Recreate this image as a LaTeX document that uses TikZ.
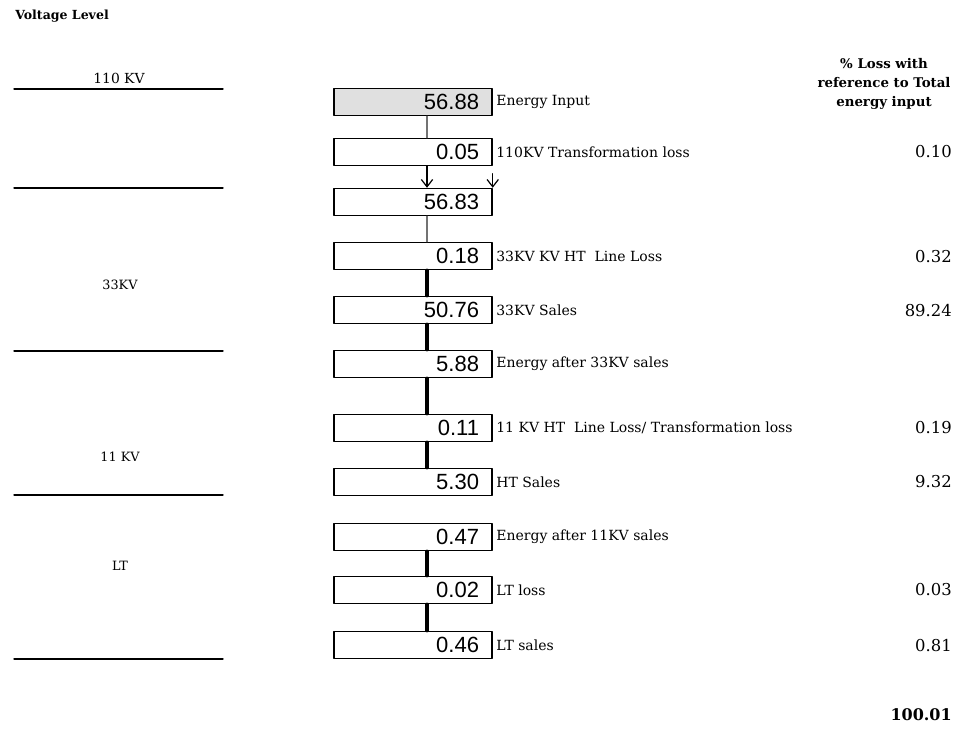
\documentclass[tikz,border=0pt]{standalone}
\usepackage{fontspec}
\setmainfont{DejaVu Serif}
\newfontfamily\numfamily{Liberation Sans}
\usetikzlibrary{arrows.meta}

\tikzset{
  valbox/.style={draw,line width=1.1pt,minimum height=20.25pt,text width=99pt,
    inner xsep=9.75pt,inner ysep=0pt,align=right,
    font=\numfamily\fontsize{16.5}{18}\selectfont},
  desc/.style={anchor=west,inner xsep=2.5pt,font=\fontsize{10.5}{12}\selectfont},
  pct/.style={anchor=east,inner sep=0pt,font=\fontsize{12.3}{14}\selectfont},
  level/.style={inner sep=0pt,font=\fontsize{9.6}{11}\selectfont},
  thinlink/.style={draw=black!55,line width=0.9pt},
  thicklink/.style={line width=2.4pt},
  tip/.style={-{Straight Barb[length=5.5pt,width=8.5pt,line width=0.9pt]},line width=0.9pt},
}

\begin{document}
\begin{tikzpicture}[x=0.75pt,y=-0.75pt,line cap=round,line join=round]
  \useasboundingbox (0,0) rectangle (960,729);

  \node[anchor=west,inner sep=0pt,font=\bfseries\fontsize{9.4}{11}\selectfont] (vlt) at (15,16) {Voltage Level};
  \node[align=center,inner sep=0pt,font=\bfseries\fontsize{10}{14.2}\selectfont] (hdr) at (884,84)
    {\% Loss with\\reference to Total\\energy input};

  \draw[line width=1pt] (14,89) -- (223,89);
  \draw[line width=1pt] (14,188) -- (223,188);
  \draw[line width=1pt] (14,351) -- (223,351);
  \draw[line width=1pt] (14,495) -- (223,495);
  \draw[line width=1pt] (14,659) -- (223,659);
  \node[level,font=\fontsize{10.4}{12}\selectfont] (l110) at (119,78) {110 KV};
  \node[level] (l33) at (120,285) {33KV};
  \node[level] (l11) at (120,457) {11 KV};
  \node[level] (llt) at (120,566) {LT};

  \node[valbox,fill=black!12] (b1) at (413,102) {56.88};
  \node[valbox] (b2) at (413,152) {0.05};
  \node[valbox] (b3) at (413,202) {56.83};
  \node[valbox] (b4) at (413,256) {0.18};
  \node[valbox] (b5) at (413,310) {50.76};
  \node[valbox] (b6) at (413,364) {5.88};
  \node[valbox] (b7) at (413,428) {0.11};
  \node[valbox] (b8) at (413,482) {5.30};
  \node[valbox] (b9) at (413,537) {0.47};
  \node[valbox] (b10) at (413,590) {0.02};
  \node[valbox] (b11) at (413,645) {0.46};

  \node[desc] (t1) at (b1.east) {Energy Input};
  \node[desc] (t2) at (b2.east) {110KV Transformation loss};
  \node[desc] (t4) at (b4.east) {33KV KV HT~ Line Loss};
  \node[desc] (t5) at (b5.east) {33KV Sales};
  \node[desc] (t6) at (b6.east) {Energy after 33KV sales};
  \node[desc] (t7) at (b7.east) {11 KV HT~ Line Loss/ Transformation loss};
  \node[desc] (t8) at (b8.east) {HT Sales};
  \node[desc] (t9) at (b9.east) {Energy after 11KV sales};
  \node[desc] (t10) at (b10.east) {LT loss};
  \node[desc] (t11) at (b11.east) {LT sales};

  \node[pct] (p2) at (952,152) {0.10};
  \node[pct] (p4) at (952,257) {0.32};
  \node[pct] (p5) at (952,311) {89.24};
  \node[pct] (p7) at (952,428) {0.19};
  \node[pct] (p8) at (952,482) {9.32};
  \node[pct] (p10) at (952,590) {0.03};
  \node[pct] (p11) at (952,646) {0.81};
  \node[pct,font=\bfseries\fontsize{12}{14}\selectfont] (ptot) at (952,715) {100.01};

  \coordinate (spine) at (427,0);
  \draw[thinlink] (b1.south -| spine) -- (b2.north -| spine);
  \draw[tip] (b2.south -| spine) -- (b3.north -| spine);
  \coordinate (rtip) at ([yshift=10.5pt]b3.north east);
  \draw[tip] (rtip) -- (b3.north east);
  \draw[thinlink] (b3.south -| spine) -- (b4.north -| spine);
  \draw[thicklink] (b4.south -| spine) -- (b5.north -| spine);
  \draw[thicklink] (b5.south -| spine) -- (b6.north -| spine);
  \draw[thicklink] (b6.south -| spine) -- (b7.north -| spine);
  \draw[thicklink] (b7.south -| spine) -- (b8.north -| spine);
  \draw[thicklink] (b9.south -| spine) -- (b10.north -| spine);
  \draw[thicklink] (b10.south -| spine) -- (b11.north -| spine);
\end{tikzpicture}
\end{document}
